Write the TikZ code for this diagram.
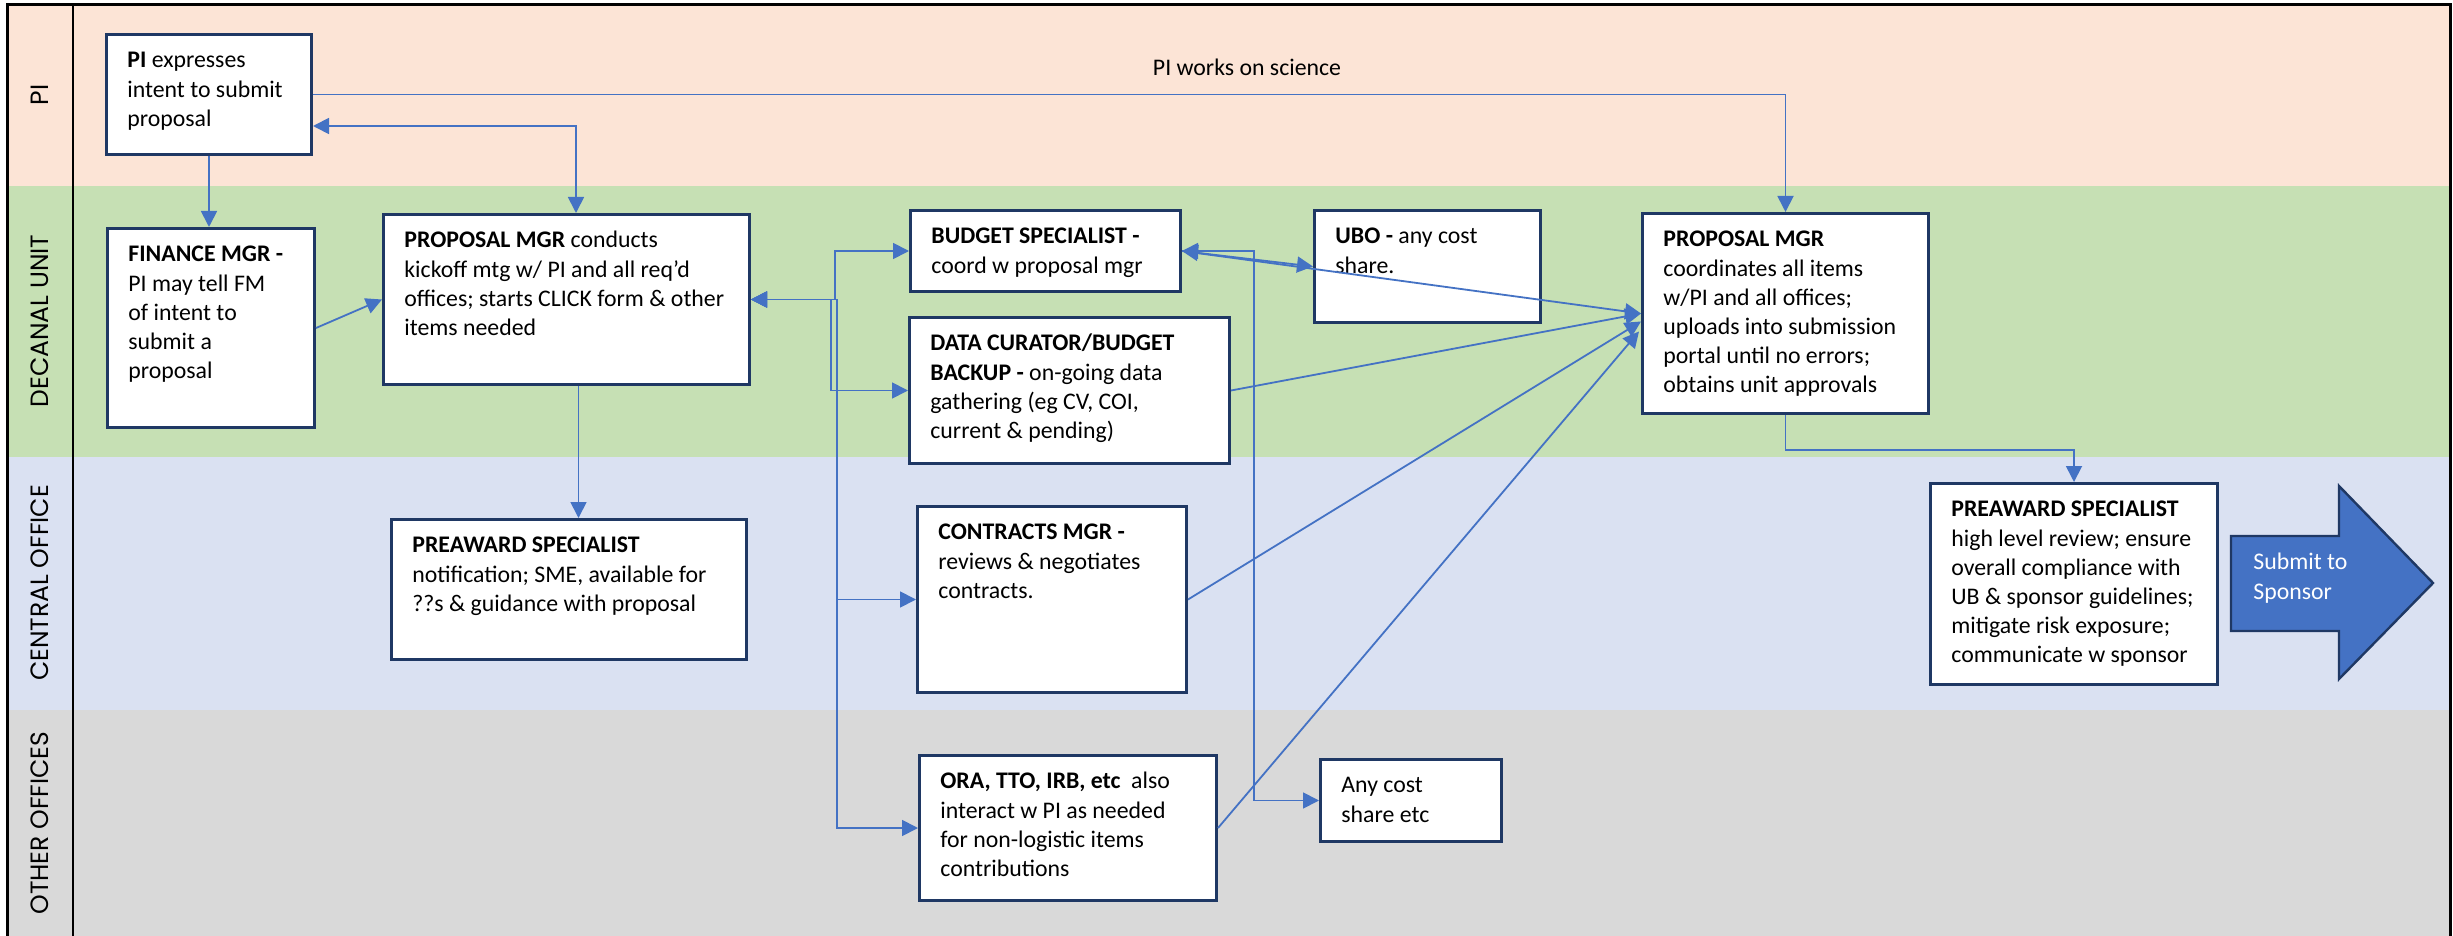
\documentclass[tikz,border=0pt]{standalone}
\usepackage{fontspec}
\setmainfont{Carlito}
\newfontfamily\lanefont{Poppins}
\usetikzlibrary{arrows.meta,calc}
\definecolor{lanePI}{HTML}{FCE4D6}
\definecolor{laneDU}{HTML}{C6E0B4}
\definecolor{laneCO}{HTML}{DAE1F2}
\definecolor{laneOO}{HTML}{D9D9D9}
\definecolor{boxline}{HTML}{1F3864}
\definecolor{connblue}{HTML}{4472C4}
\tikzset{
  box/.style={draw=boxline, line width=1.5pt, fill=white, inner sep=0pt, anchor=north west},
  boxtext/.style={anchor=north west, inner sep=0pt, align=left, font=\fontsize{11.9}{14.6}\selectfont},
  link/.style={draw=connblue, line width=0.9pt, -{Triangle[length=8pt,width=8pt]}},
  twoway/.style={draw=connblue, line width=0.9pt, {Triangle[length=8pt,width=8pt]}-{Triangle[length=8pt,width=8pt]}},
  lanelabel/.style={rotate=90, font=\lanefont\fontsize{12.5}{15}\selectfont, inner sep=0pt},
  frameline/.style={draw=black, line width=1.5pt},
}
\newcommand\flowbox[6]{%
  \node[box, minimum width={(#4-#2)*0.5pt}, minimum height={(#5-#3)*0.5pt}] (#1) at (#2,#3) {};
  \node[boxtext] (#1-text) at (#2+22,#3+14) {\strut #6};
}
\begin{document}
\begin{tikzpicture}[x=0.5pt,y=-0.5pt]
\useasboundingbox (0,0) rectangle (2453,936);
% lanes
\fill[lanePI] (7,5) rectangle (2450,186);
\fill[laneDU] (7,186) rectangle (2450,457);
\fill[laneCO] (7,457) rectangle (2450,710);
\fill[laneOO] (7,710) rectangle (2450,936);
% frame
\draw[frameline] (7,936) -- (7,5) -- (2450,5) -- (2450,936);
\draw[draw=black, line width=1.2pt] (73,5) -- (73,936);
% lane labels
\node[lanelabel] (lab-pi) at (40,95) {PI};
\node[lanelabel] (lab-du) at (40,321) {DECANAL UNIT};
\node[lanelabel] (lab-co) at (40,583) {CENTRAL OFFICE};
\node[lanelabel] (lab-oo) at (40,823) {OTHER OFFICES};
% boxes
\flowbox{pi}{105}{33}{310}{153}{\textbf{PI} expresses\\intent to submit\\proposal}
\flowbox{fin}{106}{227}{313}{426}{\textbf{FINANCE MGR -}\\PI may tell FM\\of intent to\\submit a\\proposal}
\flowbox{pm1}{382}{213}{748}{383}{\textbf{PROPOSAL MGR} conducts\\kickoff mtg w/ PI and all req'd\\offices; starts CLICK form \& other\\items needed}
\flowbox{bud}{909}{209}{1179}{290}{\textbf{BUDGET SPECIALIST -}\\coord w proposal mgr}
\flowbox{ubo}{1313}{209}{1539}{321}{\textbf{UBO -} any cost\\share.}
\flowbox{dat}{908}{316}{1228}{462}{\textbf{DATA CURATOR/BUDGET}\\\textbf{BACKUP -} on-going data\\gathering (eg CV, COI,\\current \& pending)}
\flowbox{pm2}{1641}{212}{1927}{412}{\textbf{PROPOSAL MGR}\\coordinates all items\\w/PI and all offices;\\uploads into submission\\portal until no errors;\\obtains unit approvals}
\flowbox{pre1}{390}{518}{745}{658}{\textbf{PREAWARD SPECIALIST}\\notification; SME, available for\\??s \& guidance with proposal}
\flowbox{con}{916}{505}{1185}{691}{\textbf{CONTRACTS MGR -}\\reviews \& negotiates\\contracts.}
\flowbox{ora}{918}{754}{1215}{899}{\textbf{ORA, TTO, IRB, etc}\ \ also\\interact w PI as needed\\for non-logistic items\\contributions}
\flowbox{any}{1319}{758}{1500}{840}{Any cost\\share etc}
\flowbox{pre2}{1929}{482}{2216}{683}{\textbf{PREAWARD SPECIALIST}\\high level review; ensure\\overall compliance with\\UB \& sponsor guidelines;\\mitigate risk exposure;\\communicate w sponsor}
% science label
\node[boxtext, anchor=center] (science) at (1247,67) {PI works on science};
% connectors
\draw[link] (pi.south) -- (pi.south |- fin.north);
\draw[link] (pi.east) -| (pm2.north);
\coordinate (pitap) at ($(pi.south east)+(0,-30)$);
\coordinate (pm1top) at ($(pm1.north west)+(194,0)$);
\draw[twoway] (pitap) -| (pm1top);
\draw[link] (fin.east) -- (pm1.west);
\draw[twoway] (pm1.east) -- ++(84,0) |- (bud.west);
\draw[twoway] (pm1.east) -- ++(80,0) |- (dat.west);
\draw[twoway] (pm1.east) -- ++(86,0) |- (con.west);
\draw[twoway] (pm1.east) -- ++(86,0) |- (ora.west);
\coordinate (pmdown) at ($(pm1.south)+(12,0)$);
\draw[link] (pmdown) -- (pmdown |- pre1.north);
\draw[twoway] (bud.east) -- (ubo.west);
\draw[twoway] (bud.east) -- ++(72,0) |- (any.west);
\draw[link] (bud.east) -- (pm2.west);
\draw[link] (dat.east) -- (pm2.west);
\coordinate (pm2c) at ($(pm2.west)+(0,8)$);
\coordinate (pm2o) at ($(pm2.west)+(-2,18)$);
\draw[link] (con.east) -- (pm2c);
\draw[link] (ora.east) -- (pm2o);
\draw[link] (pm2.south) -- ++(0,35) -| (pre2.north);
% submit arrow
\draw[draw=boxline, fill=connblue, line width=1.2pt] (2231,536) -- (2339,536) -- (2339,486) -- (2433,583) -- (2339,679) -- (2339,631) -- (2231,631) -- cycle;
\node[boxtext, text=white] (submit) at (2253,549) {\strut Submit to\\Sponsor};
\end{tikzpicture}
\end{document}
